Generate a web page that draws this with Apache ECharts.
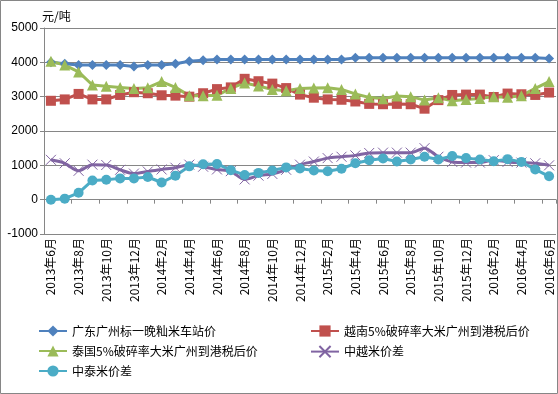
<!DOCTYPE html>
<html>
<head>
<meta charset="utf-8">
<script src="https://cdn.jsdelivr.net/npm/echarts@6/dist/echarts.min.js"></script>
<style>
html,body{margin:0;padding:0;background:#fff;}
#main{width:558px;height:394px;}
</style>
</head>
<body>
<div id="main"></div>
<script>
var months = [];
(function(){
  var y = 2013, m = 6;
  for (var i = 0; i < 37; i++) {
    months.push(y + '年' + m + '月');
    m++; if (m > 12) { m = 1; y++; }
  }
})();
var seriesNames = ['广东广州标一晚籼米车站价', '越南5%破碎率大米广州到港税后价', '泰国5%破碎率大米广州到港税后价', '中越米价差', '中泰米价差'];
var guangdong = [4000,3960,3920,3920,3920,3920,3880,3920,3920,3960,4030,4060,4080,4080,4080,4080,4080,4080,4080,4080,4080,4080,4130,4130,4130,4130,4130,4130,4130,4130,4130,4130,4130,4130,4130,4130,4110];
var vietnam = [2880,2920,3080,2920,2920,3050,3130,3100,3040,3030,3000,3100,3220,3270,3520,3450,3380,3250,3060,2970,2920,2910,2860,2790,2780,2790,2780,2650,2900,3050,3060,3060,2990,3090,3070,3050,3120];
var thailand = [4030,3920,3720,3340,3300,3270,3240,3260,3440,3270,3030,3030,3040,3240,3400,3310,3210,3170,3240,3250,3260,3210,3080,2980,2940,3020,3000,2900,2970,2880,2920,2950,3000,2980,3030,3240,3440];
var vnGap = [1160,1060,840,1020,1010,870,760,820,880,930,1020,960,880,830,590,700,750,870,1020,1110,1210,1250,1290,1360,1370,1370,1370,1500,1250,1100,1080,1080,1150,1100,1080,1060,1000];
var thGap = [0,30,200,560,580,620,620,660,500,700,970,1030,1040,860,720,780,850,940,910,850,830,900,1060,1150,1200,1110,1170,1250,1170,1270,1210,1170,1120,1180,1100,880,680];
var yTicks = {min: -1000, max: 5000, interval: 1000};

var chart = echarts.init(document.getElementById('main'), null, {renderer: 'canvas'});
var font = '"Noto Sans CJK SC", "Liberation Sans", sans-serif';
var gray = '#868686';
function mk(name, data, color, symbol, size, extra) {
  var s = {
    name: name, type: 'line', data: data, xAxisIndex: 0,
    symbol: symbol, symbolSize: size, showSymbol: true, showAllSymbol: true,
    lineStyle: {color: color, width: 3},
    itemStyle: {color: color},
    emphasis: {disabled: true}
  };
  if (extra) for (var k in extra) s[k] = extra[k];
  return s;
}
chart.setOption({
  animation: false,
  textStyle: {fontFamily: font},
  graphic: [{type: 'rect', shape: {x: 0.5, y: 0.5, width: 557, height: 393}, style: {fill: 'none', stroke: gray, lineWidth: 1}}],
  grid: {left: 44, right: 2, top: 28, bottom: 160},
  legend: [
    {left: 33, top: 320, orient: 'vertical', itemGap: 8, itemWidth: 28, itemHeight: 14,
     data: [seriesNames[0], seriesNames[2], seriesNames[4]],
     textStyle: {fontSize: 12, color: '#000', fontFamily: font}},
    {left: 305, top: 320, orient: 'vertical', itemGap: 8, itemWidth: 28, itemHeight: 14,
     data: [seriesNames[1], seriesNames[3]],
     textStyle: {fontSize: 12, color: '#000', fontFamily: font}}
  ],
  xAxis: [
    {type: 'category', data: months, boundaryGap: true,
     axisLine: {onZero: true, lineStyle: {color: gray}},
     axisTick: {show: true, interval: 1, length: 4, inside: false, lineStyle: {color: gray}},
     axisLabel: {show: false}, splitLine: {show: false}},
    {type: 'category', data: months, boundaryGap: true, position: 'bottom',
     axisLine: {show: false, onZero: false}, axisTick: {show: false},
     axisLabel: {show: true, interval: 1, rotate: 90, margin: 4, fontSize: 12, color: '#000', fontFamily: font},
     splitLine: {show: false}}
  ],
  yAxis: {
    type: 'value', min: yTicks.min, max: yTicks.max, interval: yTicks.interval,
    name: '元/吨', nameLocation: 'end', nameGap: 5,
    nameTextStyle: {align: 'left', verticalAlign: 'bottom', fontSize: 12, color: '#000', padding: [0,0,0,-2], fontFamily: font},
    axisLine: {show: true, lineStyle: {color: gray}},
    axisTick: {show: true, length: 4, lineStyle: {color: gray}},
    axisLabel: {fontSize: 12, color: '#000', margin: 6, fontFamily: '"Liberation Sans", sans-serif',
      formatter: function (v) { return String(v); }},
    splitLine: {lineStyle: {color: gray, width: 1}}
  },
  series: [
    mk(seriesNames[0], guangdong, '#4F81BD', 'diamond', 10),
    mk(seriesNames[1], vietnam, '#C0504D', 'rect', 10),
    mk(seriesNames[2], thailand, '#9BBB59', 'triangle', 11),
    mk(seriesNames[3], vnGap, '#8064A2', 'path://M0,0L10,10M10,0L0,10', 10, {
      smooth: 0.3,
      itemStyle: {color: 'rgba(0,0,0,0)', borderColor: '#8064A2', borderWidth: 1}
    }),
    mk(seriesNames[4], thGap, '#4BACC6', 'circle', 10)
  ]
});
</script>
</body>
</html>
